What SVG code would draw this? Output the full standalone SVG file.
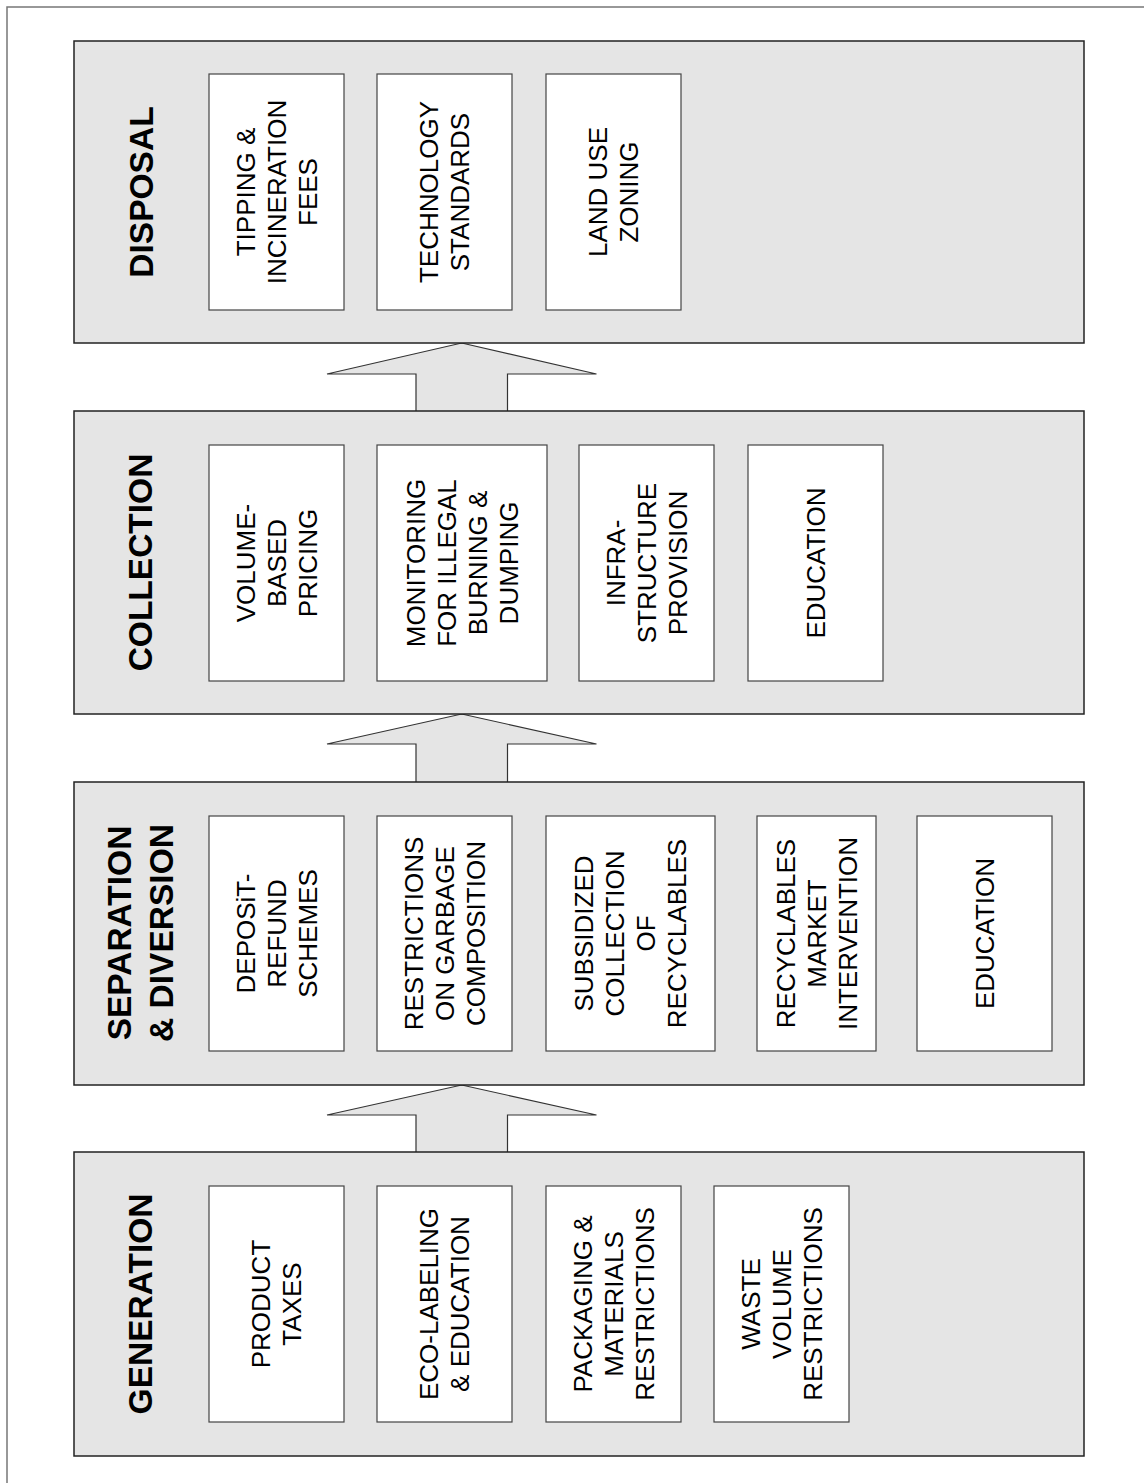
<svg xmlns="http://www.w3.org/2000/svg" width="1144" height="1483" viewBox="0 0 1144 1483">
<style>
.frame{fill:#fff;stroke:#777;stroke-width:1.5}
.panel{fill:#e5e5e5;stroke:#222;stroke-width:1.5}
.box{fill:#fff;stroke:#444;stroke-width:1.2}
.arrow{fill:#e5e5e5;stroke:#333;stroke-width:1.2;stroke-linejoin:miter}
.t{font-family:"Liberation Sans",Arial,sans-serif;font-size:26px;fill:#000;text-anchor:middle}
.title{font-family:"Liberation Sans",Arial,sans-serif;font-size:33.5px;font-weight:bold;fill:#000;text-anchor:middle}
</style>
<rect class="frame" x="7" y="7" width="1160" height="1500"/>

<g id="connectors">
<path class="arrow" d="M416,411 V374 H327 L461.7,343 L596.5,374 H507.5 V411"/>
<path class="arrow" d="M416,782 V744 H327 L461.7,714 L596.5,744 H507.5 V782"/>
<path class="arrow" d="M416,1152 V1115 H327 L461.7,1085 L596.5,1115 H507.5 V1152"/>
</g>

<g id="disposal">
<rect class="panel" x="74" y="41" width="1010" height="302"/>
<text class="title" transform="translate(140.5,192) rotate(-90)" y="12">DISPOSAL</text>
<g id="disposal-tipping">
<rect class="box" x="209" y="74" width="135" height="236"/>
<text class="t" transform="translate(276.5,192) rotate(-90)"><tspan x="0" y="-22">TIPPING &amp;</tspan><tspan x="0" y="9">INCINERATION</tspan><tspan x="0" y="40">FEES</tspan></text>
</g>
<g id="disposal-technology">
<rect class="box" x="377" y="74" width="135" height="236"/>
<text class="t" transform="translate(444.5,192) rotate(-90)"><tspan x="0" y="-6.5">TECHNOLOGY</tspan><tspan x="0" y="24.5">STANDARDS</tspan></text>
</g>
<g id="disposal-landuse">
<rect class="box" x="546" y="74" width="135" height="236"/>
<text class="t" transform="translate(613.5,192) rotate(-90)"><tspan x="0" y="-6.5">LAND USE</tspan><tspan x="0" y="24.5">ZONING</tspan></text>
</g>
</g>

<g id="collection">
<rect class="panel" x="74" y="411" width="1010" height="303"/>
<text class="title" transform="translate(139.7,562.5) rotate(-90)" y="12">COLLECTION</text>
<g id="collection-volume">
<rect class="box" x="209" y="445" width="135" height="236"/>
<text class="t" transform="translate(276.5,563) rotate(-90)"><tspan x="0" y="-22">VOLUME-</tspan><tspan x="0" y="9">BASED</tspan><tspan x="0" y="40">PRICING</tspan></text>
</g>
<g id="collection-monitoring">
<rect class="box" x="377" y="445" width="170" height="236"/>
<text class="t" transform="translate(462,563) rotate(-90)"><tspan x="0" y="-37.5">MONITORING</tspan><tspan x="0" y="-6.5">FOR ILLEGAL</tspan><tspan x="0" y="24.5">BURNING &amp;</tspan><tspan x="0" y="55.5">DUMPING</tspan></text>
</g>
<g id="collection-infra">
<rect class="box" x="579" y="445" width="135" height="236"/>
<text class="t" transform="translate(646.5,563) rotate(-90)"><tspan x="0" y="-22">INFRA-</tspan><tspan x="0" y="9">STRUCTURE</tspan><tspan x="0" y="40">PROVISION</tspan></text>
</g>
<g id="collection-education">
<rect class="box" x="748" y="445" width="135" height="236"/>
<text class="t" transform="translate(815.5,563) rotate(-90)" y="9">EDUCATION</text>
</g>
</g>

<g id="separation">
<rect class="panel" x="74" y="782" width="1010" height="303"/>
<text class="title" transform="translate(140,933) rotate(-90)"><tspan x="0" y="-9">SEPARATION</tspan><tspan x="0" y="32.5">&amp; DIVERSION</tspan></text>
<g id="separation-deposit">
<rect class="box" x="209" y="816" width="135" height="235"/>
<text class="t" transform="translate(276.5,933.5) rotate(-90)"><tspan x="0" y="-22">DEPOSiT-</tspan><tspan x="0" y="9">REFUND</tspan><tspan x="0" y="40">SCHEMES</tspan></text>
</g>
<g id="separation-restrictions">
<rect class="box" x="377" y="816" width="135" height="235"/>
<text class="t" transform="translate(444.5,933.5) rotate(-90)"><tspan x="0" y="-22">RESTRICTIONS</tspan><tspan x="0" y="9">ON GARBAGE</tspan><tspan x="0" y="40">COMPOSITION</tspan></text>
</g>
<g id="separation-subsidized">
<rect class="box" x="546" y="816" width="169" height="235"/>
<text class="t" transform="translate(630.5,933.5) rotate(-90)"><tspan x="0" y="-37.5">SUBSIDIZED</tspan><tspan x="0" y="-6.5">COLLECTION</tspan><tspan x="0" y="24.5">OF</tspan><tspan x="0" y="55.5">RECYCLABLES</tspan></text>
</g>
<g id="separation-market">
<rect class="box" x="757" y="816" width="119" height="235"/>
<text class="t" transform="translate(816.5,933.5) rotate(-90)"><tspan x="0" y="-22">RECYCLABLES</tspan><tspan x="0" y="9">MARKET</tspan><tspan x="0" y="40">INTERVENTION</tspan></text>
</g>
<g id="separation-education">
<rect class="box" x="917" y="816" width="135" height="235"/>
<text class="t" transform="translate(984.5,933.5) rotate(-90)" y="9">EDUCATION</text>
</g>
</g>

<g id="generation">
<rect class="panel" x="74" y="1152" width="1010" height="304"/>
<text class="title" transform="translate(139.7,1304) rotate(-90)" y="12">GENERATION</text>
<g id="generation-product">
<rect class="box" x="209" y="1186" width="135" height="236"/>
<text class="t" transform="translate(276.5,1304) rotate(-90)"><tspan x="0" y="-6.5">PRODUCT</tspan><tspan x="0" y="24.5">TAXES</tspan></text>
</g>
<g id="generation-eco">
<rect class="box" x="377" y="1186" width="135" height="236"/>
<text class="t" transform="translate(444.5,1304) rotate(-90)"><tspan x="0" y="-6.5">ECO-LABELING</tspan><tspan x="0" y="24.5">&amp; EDUCATION</tspan></text>
</g>
<g id="generation-packaging">
<rect class="box" x="546" y="1186" width="135" height="236"/>
<text class="t" transform="translate(613.5,1304) rotate(-90)"><tspan x="0" y="-22">PACKAGING &amp;</tspan><tspan x="0" y="9">MATERIALS</tspan><tspan x="0" y="40">RESTRICTIONS</tspan></text>
</g>
<g id="generation-waste">
<rect class="box" x="714" y="1186" width="135" height="236"/>
<text class="t" transform="translate(781.5,1304) rotate(-90)"><tspan x="0" y="-22">WASTE</tspan><tspan x="0" y="9">VOLUME</tspan><tspan x="0" y="40">RESTRICTIONS</tspan></text>
</g>
</g>
</svg>
